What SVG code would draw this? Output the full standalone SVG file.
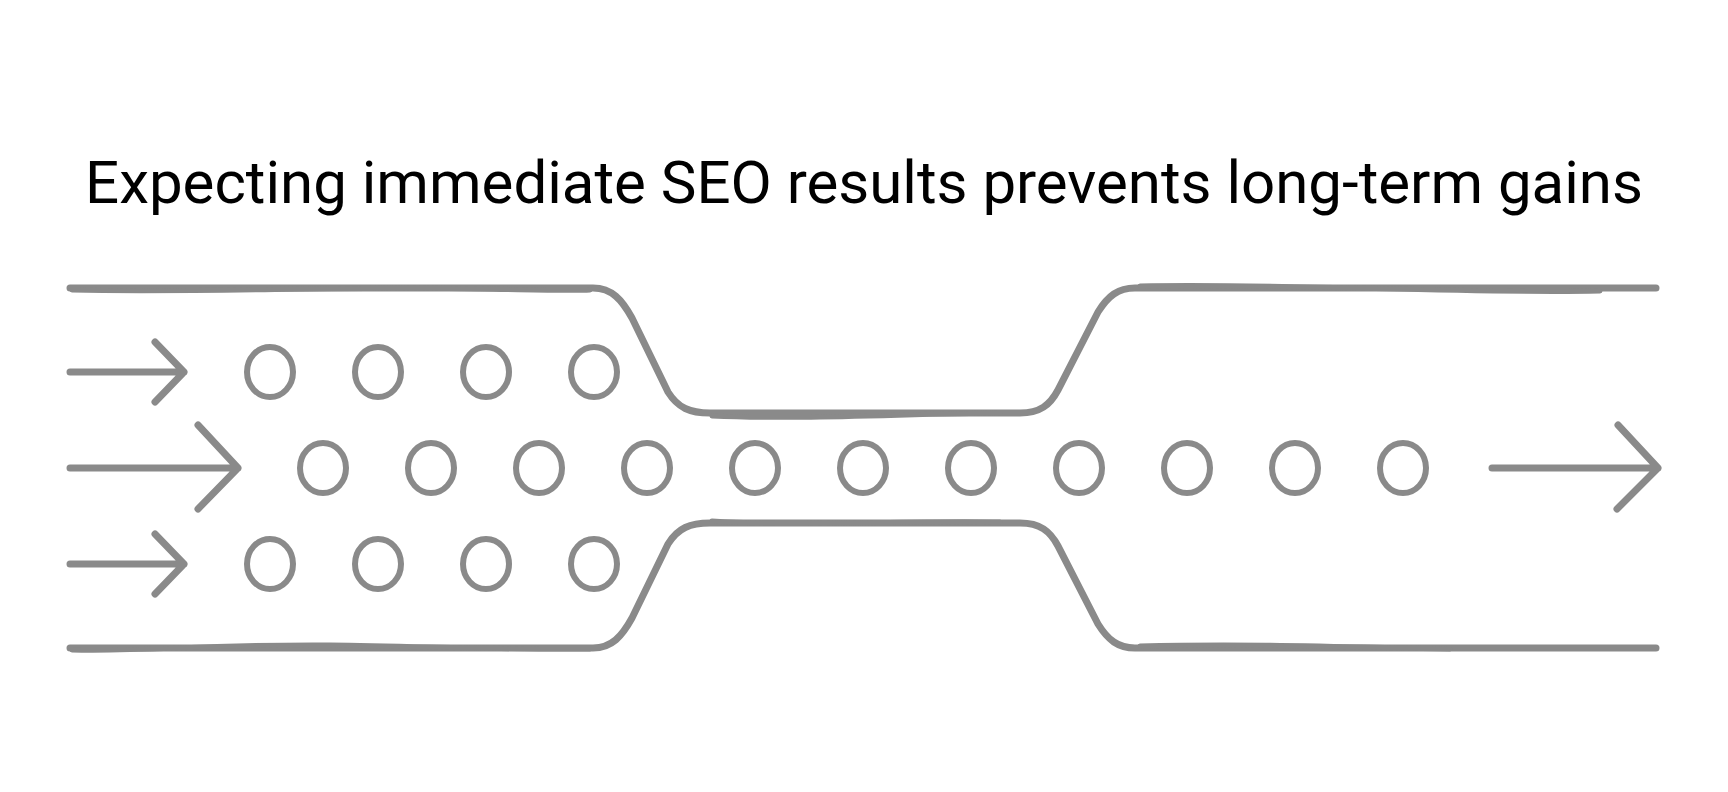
<svg xmlns="http://www.w3.org/2000/svg" width="1728" height="792" viewBox="0 0 1728 792">
<style>
.ink{fill:none;stroke:#8a8a8a;stroke-width:7;stroke-linecap:round;stroke-linejoin:round}
.ink2{fill:none;stroke:#8a8a8a;stroke-width:5;stroke-linecap:round;stroke-linejoin:round}
.dot{fill:none;stroke:#8a8a8a;stroke-width:6}
.title{font-family:Roboto,"Liberation Sans",sans-serif;font-size:60px;fill:#000}
</style>
<rect width="1728" height="792" fill="#fff"/>
<text class="title" x="864" y="203" text-anchor="middle">Expecting immediate SEO results prevents long-term gains</text>
<g id="channel">
<path class="ink" d="M70,288 L593,288 C612,288 622,300 632,318 L668,392 C678,408 690,413 710,413 L1020,413 C1040,413 1050,405 1058,390 L1098,312 C1108,296 1118,288 1135,288 L1656,288"/>
<path class="ink2" d="M72,290 C200,293 350,286 480,289 C540,290 570,291 590,290 M712,416 C800,420 900,414 1000,413 M1140,286 C1300,283 1450,294 1600,291"/>
<path class="ink" d="M70,648 L593,648 C612,648 622,636 632,618 L668,544 C678,528 690,523 710,523 L1020,523 C1040,523 1050,531 1058,546 L1098,624 C1108,640 1118,648 1135,648 L1656,648"/>
<path class="ink2" d="M72,650 C150,652 200,644 330,645 C420,646 500,650 590,649 M712,521 C800,527 900,520 1000,522 M1140,646 C1250,643 1350,647 1450,649"/>
</g>
<g id="particles">
<g id="row-top">
<ellipse class="dot" cx="270" cy="372" rx="23" ry="25"/>
<ellipse class="dot" cx="378" cy="372" rx="23" ry="25"/>
<ellipse class="dot" cx="486" cy="372" rx="23" ry="25"/>
<ellipse class="dot" cx="594" cy="372" rx="23" ry="25"/>
</g>
<g id="row-middle">
<ellipse class="dot" cx="323" cy="468" rx="23" ry="25"/>
<ellipse class="dot" cx="431" cy="468" rx="23" ry="25"/>
<ellipse class="dot" cx="539" cy="468" rx="23" ry="25"/>
<ellipse class="dot" cx="647" cy="468" rx="23" ry="25"/>
<ellipse class="dot" cx="755" cy="468" rx="23" ry="25"/>
<ellipse class="dot" cx="863" cy="468" rx="23" ry="25"/>
<ellipse class="dot" cx="971" cy="468" rx="23" ry="25"/>
<ellipse class="dot" cx="1079" cy="468" rx="23" ry="25"/>
<ellipse class="dot" cx="1187" cy="468" rx="23" ry="25"/>
<ellipse class="dot" cx="1295" cy="468" rx="23" ry="25"/>
<ellipse class="dot" cx="1403" cy="468" rx="23" ry="25"/>
</g>
<g id="row-bottom">
<ellipse class="dot" cx="270" cy="564" rx="23" ry="25"/>
<ellipse class="dot" cx="378" cy="564" rx="23" ry="25"/>
<ellipse class="dot" cx="486" cy="564" rx="23" ry="25"/>
<ellipse class="dot" cx="594" cy="564" rx="23" ry="25"/>
</g>
</g>
<g id="connectors">
<path class="ink" d="M70,372 L184,372 M155,342 L184,372 L155,402"/>
<path class="ink" d="M70,468 L238,468 M198,425 L238,468 L198,509"/>
<path class="ink" d="M70,564 L184,564 M155,534 L184,564 L155,594"/>
<path class="ink" d="M1492,468 L1658,468 M1618,425 L1658,468 L1617,509"/>
</g>
</svg>
